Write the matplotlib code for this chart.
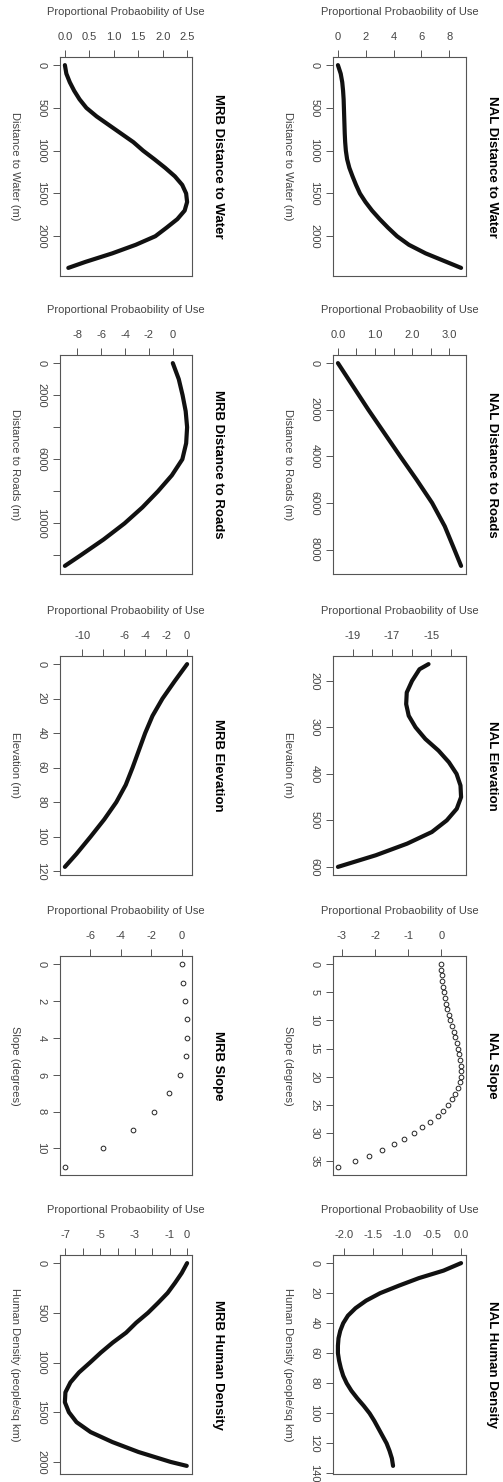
import matplotlib
matplotlib.use("Agg")
import matplotlib.pyplot as plt
import numpy as np

plt.rcParams['font.family'] = ['Liberation Sans', 'DejaVu Sans']

# ---- data ----
# distance to water (m)
mrb_water_x = [0, 100, 200, 300, 400, 500, 600, 700, 800, 900, 1000, 1100, 1200,
               1300, 1400, 1500, 1600, 1700, 1800, 1900, 2000, 2100, 2200, 2300, 2370]
mrb_water_y = [0.00, 0.03, 0.10, 0.19, 0.30, 0.44, 0.65, 0.90, 1.15, 1.40, 1.60, 1.83, 2.05,
               2.25, 2.40, 2.48, 2.50, 2.45, 2.30, 2.08, 1.85, 1.45, 0.97, 0.42, 0.07]
nal_water_x = [0, 100, 200, 300, 400, 500, 600, 700, 800, 900, 1000, 1100, 1200,
               1300, 1400, 1500, 1600, 1700, 1800, 1900, 2000, 2100, 2200, 2300, 2370]
nal_water_y = [0.00, 0.20, 0.31, 0.37, 0.41, 0.43, 0.45, 0.47, 0.49, 0.52, 0.57, 0.66, 0.82,
               1.05, 1.30, 1.58, 1.98, 2.45, 3.00, 3.60, 4.25, 5.10, 6.30, 7.80, 8.85]

# distance to roads (m)
mrb_roads_x = [0, 1000, 2000, 3000, 4000, 5000, 6000, 7000, 8000, 9000, 10000, 11000, 12000, 12650]
mrb_roads_y = [0.0, 0.50, 0.82, 1.08, 1.20, 1.12, 0.80, -0.08, -1.25, -2.55, -4.05, -5.80, -7.75, -9.05]
nal_roads_x = [0, 1000, 2000, 3000, 4000, 5000, 6000, 7000, 8000, 8700]
nal_roads_y = [0.0, 0.41, 0.82, 1.25, 1.68, 2.12, 2.54, 2.88, 3.14, 3.32]

# elevation (m)
mrb_elev_x = [0, 10, 20, 30, 40, 50, 60, 70, 80, 90, 100, 110, 117.5]
mrb_elev_y = [0.0, -1.2, -2.35, -3.3, -4.0, -4.6, -5.2, -5.85, -6.75, -7.9, -9.2, -10.55, -11.65]
nal_elev_x = [164, 175, 200, 225, 250, 275, 300, 325, 350, 375, 400, 425, 450,
              475, 500, 525, 550, 575, 600]
nal_elev_y = [-15.14, -15.6, -15.98, -16.25, -16.28, -16.15, -15.8, -15.3, -14.63, -14.1, -13.71,
              -13.51, -13.48, -13.7, -14.21, -14.97, -16.23, -17.83, -19.76]

# slope (degrees)
mrb_slope_x = list(range(0, 12))
mrb_slope_y = [0.0, 0.11, 0.22, 0.33, 0.36, 0.27, -0.11, -0.82, -1.84, -3.22, -5.16, -7.67]
nal_slope_x = list(range(0, 37))
nal_slope_y = [0.0, 0.0, 0.02, 0.03, 0.05, 0.07, 0.10, 0.13, 0.17, 0.22, 0.27, 0.32, 0.37,
               0.42, 0.47, 0.50, 0.54, 0.56, 0.58, 0.59, 0.58, 0.56, 0.50, 0.42, 0.32, 0.20,
               0.06, -0.12, -0.34, -0.58, -0.82, -1.12, -1.43, -1.78, -2.18, -2.62, -3.12]

# human density (people/sq km)
mrb_human_x = [0, 100, 200, 300, 400, 500, 600, 700, 800, 900, 1000, 1100, 1200, 1300,
               1400, 1500, 1600, 1700, 1800, 1900, 2000, 2040]
mrb_human_y = [0.0, -0.31, -0.70, -1.12, -1.67, -2.25, -2.93, -3.51, -4.28, -4.96, -5.58,
               -6.22, -6.71, -7.0, -7.03, -6.8, -6.36, -5.55, -4.3, -2.8, -0.95, -0.02]
nal_human_x = [0, 5, 10, 15, 20, 25, 30, 35, 40, 45, 50, 55, 60, 65, 70, 75, 80,
               85, 90, 95, 100, 105, 110, 115, 120, 125, 130, 135]
nal_human_y = [0.0, -0.30, -0.72, -1.06, -1.38, -1.62, -1.80, -1.93, -2.01, -2.06, -2.09,
               -2.10, -2.10, -2.08, -2.05, -2.01, -1.95, -1.87, -1.77, -1.66, -1.56, -1.48,
               -1.41, -1.34, -1.27, -1.22, -1.18, -1.16]

ylab = "Proportional Probaobility of Use"

# figure in pixels
W, H = 503, 1482
fig = plt.figure(figsize=(W / 100, H / 100), dpi=100)
tops = [57, 355, 656, 956, 1255]
box_h = 219
cols = {"MRB": (60, 192), "NAL": (333, 466)}
grey = "#444444"


def panel(site, row, dist, prob, vticks, vlabels, hticks, hlabels, title, xlab, dense=True):
    l, r = cols[site]
    t = tops[row]
    ax = fig.add_axes([l / W, 1 - (t + box_h) / H, (r - l) / W, box_h / H])
    if dense:
        ax.plot(prob, dist, "-", color="#111111", lw=3.0,
                solid_capstyle="round", solid_joinstyle="round")
    else:
        ax.plot(prob, dist, "o", mfc="none", mec="#222222", ms=3.4, mew=0.7)

    # R style 4% padding
    p0, p1 = np.min(prob), np.max(prob)
    d0, d1 = np.min(dist), np.max(dist)
    pp, dp = 0.04 * (p1 - p0), 0.04 * (d1 - d0)
    ax.set_xticks(hticks, labels=hlabels, fontsize=8, color=grey)
    ax.set_yticks(vticks, labels=vlabels, fontsize=8, color=grey, rotation=-90, va="center")
    ax.set_xlim(p0 - pp, p1 + pp)
    ax.set_ylim(d1 + dp, d0 - dp)
    ax.xaxis.tick_top()
    ax.tick_params(axis="both", direction="out", length=4.8, width=0.7, colors="#555555",
                   labelcolor=grey)
    ax.tick_params(axis="x", pad=6)
    ax.tick_params(axis="y", pad=5)
    for s in ax.spines.values():
        s.set_color("#555555")
        s.set_linewidth(0.8)

    yc = 1 - (t + box_h / 2) / H
    fig.text((r + 26) / W, yc, title, rotation=-90, ha="center", va="center",
             fontsize=9.5, fontweight="bold")
    fig.text((l - 45) / W, yc, xlab, rotation=-90, ha="center", va="center",
             fontsize=8, color=grey)
    fig.text((l + r) / 2 / W, 1 - (t - 45) / H, ylab, ha="center", va="center",
             fontsize=8, color=grey)
    return ax


def lab(vals, fmt="{:g}", skip=()):
    return ["" if v in skip else fmt.format(v) for v in vals]


# row 1: distance to water
t = [0, 500, 1000, 1500, 2000]
h = [0, 0.5, 1.0, 1.5, 2.0, 2.5]
panel("MRB", 0, mrb_water_x, mrb_water_y, t, lab(t), h, lab(h, "{:.1f}"),
      "MRB Distance to Water", "Distance to Water (m)")
h = [0, 2, 4, 6, 8]
panel("NAL", 0, nal_water_x, nal_water_y, t, lab(t), h, lab(h),
      "NAL Distance to Water", "Distance to Water (m)")

# row 2: distance to roads
t = [0, 2000, 4000, 6000, 8000, 10000, 12000]
h = [-8, -6, -4, -2, 0]
panel("MRB", 1, mrb_roads_x, mrb_roads_y, t, lab(t, skip=(4000, 8000, 12000)), h, lab(h),
      "MRB Distance to Roads", "Distance to Roads (m)")
t = [0, 2000, 4000, 6000, 8000]
h = [0, 0.5, 1.0, 1.5, 2.0, 2.5, 3.0]
panel("NAL", 1, nal_roads_x, nal_roads_y, t, lab(t), h, lab(h, "{:.1f}", skip=(0.5, 1.5, 2.5)),
      "NAL Distance to Roads", "Distance to Roads (m)")

# row 3: elevation
t = [0, 20, 40, 60, 80, 100, 120]
h = [-10, -8, -6, -4, -2, 0]
panel("MRB", 2, mrb_elev_x, mrb_elev_y, t, lab(t), h, lab(h, skip=(-8,)),
      "MRB Elevation", "Elevation (m)")
t = [200, 300, 400, 500, 600]
h = [-19, -18, -17, -16, -15, -14]
panel("NAL", 2, nal_elev_x, nal_elev_y, t, lab(t), h, lab(h, skip=(-18, -16, -14)),
      "NAL Elevation", "Elevation (m)")

# row 4: slope
t = [0, 2, 4, 6, 8, 10]
h = [-6, -4, -2, 0]
panel("MRB", 3, mrb_slope_x, mrb_slope_y, t, lab(t), h, lab(h),
      "MRB Slope", "Slope (degrees)", dense=False)
t = [0, 5, 10, 15, 20, 25, 30, 35]
h = [-3, -2, -1, 0]
panel("NAL", 3, nal_slope_x, nal_slope_y, t, lab(t), h, lab(h),
      "NAL Slope", "Slope (degrees)", dense=False)

# row 5: human density
t = [0, 500, 1000, 1500, 2000]
h = [-7, -6, -5, -4, -3, -2, -1, 0]
panel("MRB", 4, mrb_human_x, mrb_human_y, t, lab(t), h, lab(h, skip=(-6, -4, -2)),
      "MRB Human Density", "Human Density (people/sq km)")
t = [0, 20, 40, 60, 80, 100, 120, 140]
h = [-2.0, -1.5, -1.0, -0.5, 0.0]
panel("NAL", 4, nal_human_x, nal_human_y, t, lab(t), h, lab(h, "{:.1f}"),
      "NAL Human Density", "Human Density (people/sq km)")

fig.savefig("out.png", dpi=100)
